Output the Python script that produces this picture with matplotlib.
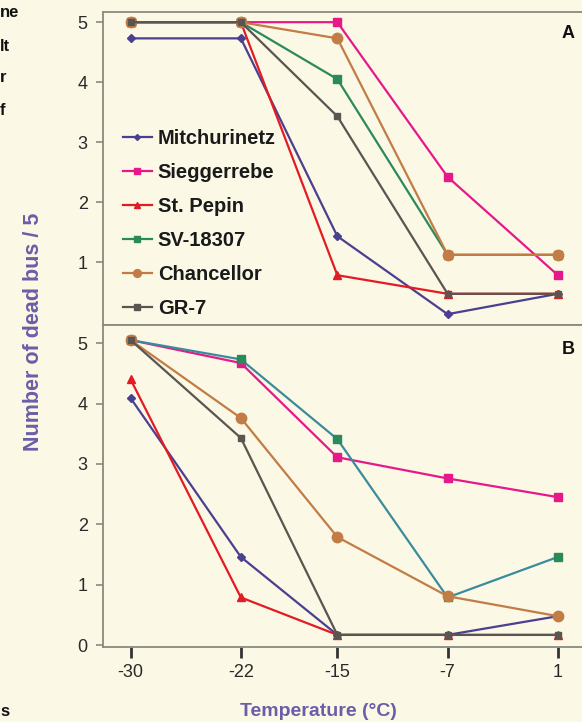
import numpy as np
import matplotlib
matplotlib.use("Agg")
from matplotlib import pyplot as plt

plt.rcParams['font.family'] = ['Liberation Sans', 'DejaVu Sans']

temps = [-30, -22, -15, -7, 1]
names = ['Mitchurinetz', 'Sieggerrebe', 'St. Pepin', 'SV-18307', 'Chancellor', 'GR-7']

# panel A
a_mitch = [4.73, 4.73, 1.43, 0.13, 0.47]
a_sieg = [5.0, 5.0, 5.0, 2.42, 0.78]
a_pepin = [5.0, 5.0, 0.78, 0.47, 0.47]
a_sv = [5.0, 5.0, 4.05, 1.12, 1.12]
a_chanc = [5.0, 5.0, 4.73, 1.12, 1.12]
a_gr7 = [5.0, 5.0, 3.43, 0.47, 0.47]

# panel B
b_mitch = [4.09, 1.46, 0.17, 0.17, 0.48]
b_sieg = [5.05, 4.67, 3.11, 2.76, 2.45]
b_pepin = [4.40, 0.79, 0.17, 0.17, 0.17]
b_sv = [5.05, 4.73, 3.41, 0.79, 1.46]
b_chanc = [5.05, 3.76, 1.79, 0.81, 0.48]
b_gr7 = [5.05, 3.43, 0.17, 0.17, 0.17]

colors = ['#4b3f8f', '#e6198a', '#e31b23', '#2b8a5a', '#c27c45', '#5a5550']
line_b = ['#4b3f8f', '#e6198a', '#e31b23', '#3a8c9c', '#c27c45', '#5a5550']
markers = ['D', 's', '^', 's', 'o', 's']
msizes = [4, 6, 6, 6, 7.5, 5]

bg = '#fbf8e6'
spine_c = '#8a8a80'

fig = plt.figure(figsize=(5.82, 7.22), dpi=100, facecolor=bg)
axA = fig.add_axes([0.177, 0.5499, 0.823, 0.4335], facecolor=bg)
axB = fig.add_axes([0.177, 0.1039, 0.823, 0.4460], facecolor=bg)

for i, ys in enumerate([a_mitch, a_sieg, a_pepin, a_sv, a_chanc, a_gr7]):
    axA.plot(temps, ys, color=colors[i], lw=1.6, marker=markers[i], ms=msizes[i],
             mfc=colors[i], mec=colors[i], label=names[i])

for i, ys in enumerate([b_mitch, b_sieg, b_pepin, b_sv, b_chanc, b_gr7]):
    axB.plot(temps, ys, color=line_b[i], lw=1.6, marker=markers[i], ms=msizes[i],
             mfc=colors[i], mec=colors[i])

axA.set_xlim(-32.0, 2.75)
axB.set_xlim(-32.0, 2.75)
axA.set_ylim(-0.05, 5.17)
axB.set_ylim(-0.03, 5.30)

axA.set_yticks([1, 2, 3, 4, 5])
axB.set_yticks([0, 1, 2, 3, 4, 5])
axA.set_xticks([])
axB.set_xticks(temps)
axB.set_xticklabels([str(t) for t in temps])

for ax in (axA, axB):
    ax.spines['right'].set_visible(False)
    for s in ('left', 'top', 'bottom'):
        ax.spines[s].set_color(spine_c)
        ax.spines[s].set_linewidth(1.3)
    ax.tick_params(axis='y', direction='out', length=5, width=1.2, color=spine_c,
                   labelsize=13, labelcolor='#2a2a2a', pad=6)
axB.tick_params(axis='x', direction='out', length=8, width=2, color='#333333',
                labelsize=13, labelcolor='#2a2a2a', pad=4)

axA.text(0.985, 0.93, 'A', transform=axA.transAxes, ha='right', va='center',
         fontsize=13, fontweight='bold', color='#111111')
axB.text(0.985, 0.925, 'B', transform=axB.transAxes, ha='right', va='center',
         fontsize=13, fontweight='bold', color='#111111')

leg = axA.legend(loc='lower left', bbox_to_anchor=(0.003, -0.035), frameon=False,
                 prop={'size': 14.5, 'weight': 'bold'}, handlelength=1.45,
                 handletextpad=0.3, labelspacing=0.74, markerscale=0.75)
for t in leg.get_texts():
    t.set_color('#1a1a1a')

fig.text(0.057, 0.54, 'Number of dead bus / 5', rotation=90, ha='center', va='center',
         fontsize=15.5, fontweight='bold', color='#6b5ea8')
fig.text(0.547, 0.014, 'Temperature (°C)', ha='center', va='center',
         fontsize=14, fontweight='bold', color='#6b5ea8')

# text fragments cut off at the left edge
for txt, yy in [('ne', 0.983), ('lt', 0.935), ('r', 0.892), ('f', 0.847), ('s', 0.015)]:
    fig.text(0.0, yy, txt, ha='left', va='center', fontsize=12, fontweight='bold',
             color='#111111')

fig.savefig('out.png', dpi=100, facecolor=bg)
